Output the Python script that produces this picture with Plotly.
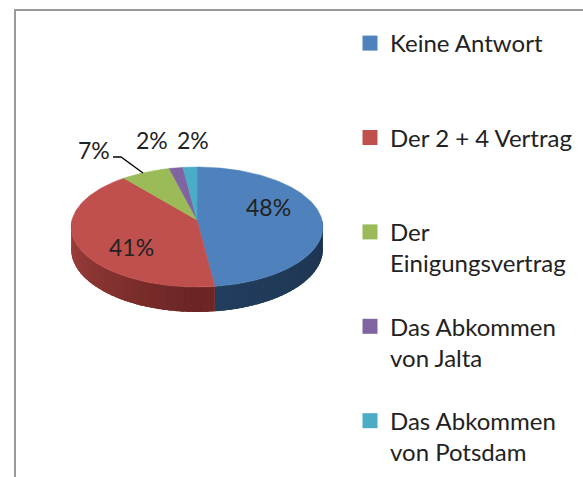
import numpy as np
import plotly.graph_objects as go

# ---- data ----
categories = ["Keine Antwort", "Der 2 + 4 Vertrag", "Der Einigungsvertrag",
              "Das Abkommen von Jalta", "Das Abkommen von Potsdam"]
legend_names = ["Keine Antwort<br>&nbsp;", "Der 2 + 4 Vertrag<br>&nbsp;",
                "Der<br>Einigungsvertrag", "Das Abkommen<br>von Jalta",
                "Das Abkommen<br>von Potsdam"]
values = [48, 41, 7, 2, 2]

# ---- style ----
top_colors = ["#4F81BD", "#C0504D", "#9BBB59", "#8064A2", "#4BACC6"]
side_dark = ["#233F5E", "#6A2524", "#5E7A2E", "#4A3660", "#23667A"]
side_light = ["#1C3350", "#A4423F", "#7E9C45", "#604A80", "#3590A8"]
label_pos = [(268, 207), (131, 247), (94, 150), (152, 140), (193, 140)]

W, H = 583, 477
cx, cy, rx, ry, persp, depth = 197, 220, 125, 59.2, 0.117, 22
FONT = "Lato, 'Open Sans', sans-serif"
TXT = "#222222"


def proj(phi, r=1.0):
    u = r * np.sin(phi)
    v = -r * np.cos(phi)
    d = 1 - persp * v
    return cx + rx * u / d, cy + ry * v / d, d


total = sum(values)
fracs = [v / total for v in values]
bounds = np.concatenate([[0], np.cumsum(fracs)]) * 2 * np.pi

fig = go.Figure()


def hex2rgb(h):
    h = h.lstrip("#")
    return np.array([int(h[i:i + 2], 16) for i in (0, 2, 4)], dtype=float)


def mix(c1, c2, t):
    c = hex2rgb(c1) * (1 - t) + hex2rgb(c2) * t
    return "rgb(%d,%d,%d)" % tuple(np.round(c))


def side_poly(s0, s1, npts=6):
    ph = np.linspace(s0, s1, npts)
    xs, ys = [], []
    for p_ in ph:
        x, y, d = proj(p_)
        xs.append(x); ys.append(y)
    for p_ in ph[::-1]:
        x, y, d = proj(p_)
        xs.append(x); ys.append(y + depth / d)
    return xs + [xs[0]], ys + [ys[0]]


# side faces (only front half visible: phi in [pi/2, 3pi/2])
for i in range(len(values)):
    a0 = max(bounds[i], np.pi / 2)
    a1 = min(bounds[i + 1], 3 * np.pi / 2)
    if a1 <= a0:
        continue
    xs, ys = side_poly(a0, a1, 60)
    base = mix(side_dark[i], side_light[i], 0.5)
    fig.add_trace(go.Scatter(x=xs, y=ys, mode="lines", fill="toself",
                             fillcolor=base, line=dict(width=0),
                             hoverinfo="skip", showlegend=False))
    n = max(2, int(np.ceil((a1 - a0) / np.radians(2.5))))
    edges = np.linspace(a0, a1, n + 1)
    step = edges[1] - edges[0]
    for k in range(n):
        s0 = edges[k]
        s1 = min(edges[k + 1] + step * 0.6, a1)
        mid = (edges[k] + edges[k + 1]) / 2
        t = abs(mid - np.pi) / (np.pi / 2)
        col = mix(side_dark[i], side_light[i], t)
        xs, ys = side_poly(s0, s1)
        fig.add_trace(go.Scatter(x=xs, y=ys, mode="lines", fill="toself",
                                 fillcolor=col, line=dict(width=0),
                                 hoverinfo="skip", showlegend=False))

# top faces
for i in range(len(values)):
    ph = np.linspace(bounds[i], bounds[i + 1], max(3, int(fracs[i] * 360)))
    xs, ys = [cx], [cy]
    for p_ in ph:
        x, y, d = proj(p_)
        xs.append(x); ys.append(y)
    xs.append(cx); ys.append(cy)
    fig.add_trace(go.Scatter(x=xs, y=ys, mode="lines", fill="toself",
                             fillcolor=top_colors[i],
                             line=dict(color=top_colors[i], width=0.5),
                             hoverinfo="skip", showlegend=False))

# legend entries
for i, name in enumerate(legend_names):
    fig.add_trace(go.Scatter(x=[None], y=[None], mode="markers", name=name,
                             legendgroup=str(i),
                             marker=dict(symbol="square", size=15,
                                         color=top_colors[i],
                                         line=dict(width=0))))

# percentage labels
for i, v in enumerate(values):
    fig.add_annotation(x=label_pos[i][0], y=label_pos[i][1],
                       text="%d%%" % round(100 * v / total), showarrow=False,
                       font=dict(family=FONT, size=23, color=TXT),
                       xanchor="center", yanchor="middle")

# leader line for 7%
fig.add_shape(type="path", path="M 113 157 L 121 157 L 143 173",
              line=dict(color="#000000", width=1.3), xref="x", yref="y")

# chart frame
fig.add_shape(type="path", path="M 15 477 L 15 10 L 583 10",
              line=dict(color="#9A9A9A", width=2), xref="x", yref="y")

fig.update_layout(
    width=W, height=H,
    margin=dict(l=0, r=0, t=0, b=0),
    paper_bgcolor="white", plot_bgcolor="white",
    xaxis=dict(range=[0, W], visible=False, fixedrange=True),
    yaxis=dict(range=[H, 0], visible=False, fixedrange=True),
    showlegend=True,
    hovermode=False,
    legend=dict(x=350 / W, y=1 - 21 / H, xanchor="left", yanchor="top",
                valign="top", tracegroupgap=29,
                font=dict(family=FONT, size=24, color=TXT),
                bgcolor="rgba(0,0,0,0)"),
)

fig.write_html("out.html", config={"displayModeBar": False},
               post_script="document.body.style.margin='0px';")
